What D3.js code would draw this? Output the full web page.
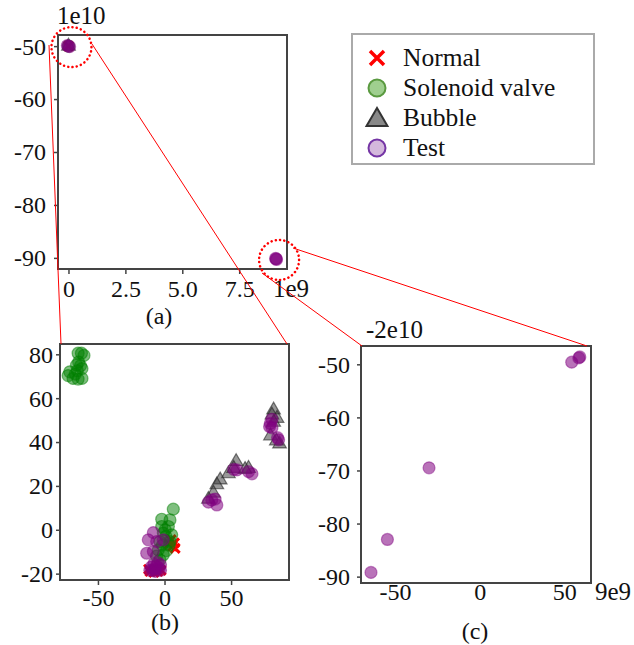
<!DOCTYPE html>
<html>
<head>
<meta charset="utf-8">
<script src="https://cdn.jsdelivr.net/npm/d3@7"></script>
<style>
  body { margin: 0; background: #fff; }
</style>
</head>
<body>
<svg id="fig" width="634" height="645"></svg>
<script>
// ---- data ----
// panel (a): full range, x in 1e9, y in 1e10
const aNormal = [[0, -50]];
const aSolenoid = [[0, -50]];
const aBubble = [[0, -50]];
const aTest = [[0, -50], [0.05, -50.1], [-0.05, -49.9], [9.12, -90.2], [9.1, -90.1], [9.14, -90.3]];
const aXTicks = [0, 2.5, 5.0, 7.5];
const aYTicks = [-50, -60, -70, -80, -90];

// panel (b): zoom around the origin
const bNormal = [[5, -4.5], [7.5, -6], [8, -8.5], [6, -7.5], [3.5, -6.5], [-11, -19], [-8, -19.5], [-5, -19], [-2.5, -18.5], [-12, -18]];
const bSolenoid = [
  [-64.9, 80.5], [-62.4, 80.5], [-60.5, 79.5], [-66.1, 75.1], [-63.1, 74.8], [-64.5, 76.5], [-62, 73.5],
  [-65.5, 72.5], [-71.2, 72], [-72.4, 70.3], [-68.7, 69], [-64.9, 68.7], [-62, 69], [-67, 71],
  [6.6, 9.4], [-2.1, 4.8], [4.1, 4.5], [-2.1, 1.5], [2.9, 1.5], [-0.9, -1.5], [5.4, -2.3], [-3.4, -5.4],
  [4.1, -5.4], [-4.7, -9.2], [-0.9, -11.4], [-3.4, -13.7], [1, -3], [-1.5, -7], [-6, -12], [0.5, 0],
  [3.5, -7], [1.5, -9.5]
];
const bBubble = [
  [81.9, 54.6], [80.7, 52.3], [84.5, 50.8], [79.6, 42.8], [86.4, 39.1], [84, 40.5], [82, 49],
  [53.8, 31.1], [63.1, 28], [48, 25.5], [41.8, 22.7], [39.3, 20.5], [36.7, 16.7], [33, 13.9], [60.5, 27.5], [52, 28]
];
const bTest = [
  [80.7, 50.4], [78.9, 47], [80.7, 46.5], [85.7, 41], [84.9, 42], [79.5, 48.5],
  [54.4, 27.3], [65.7, 25.5], [63.1, 26.5], [35.5, 13.6], [39.3, 11.3], [33, 12.6], [38, 14], [52, 27.5],
  [-8.4, -1.3], [-12.2, -4.6], [-5.9, -5.4], [-0.9, -4.6], [-13.4, -10.7], [-8.4, -9.9],
  [-10, -17], [-7, -18], [-4, -17.5], [-8, -15.5], [-3, -16], [-6, -16.5], [-9, -18.5], [-5, -15],
  [-11, -18.5], [-7, -19], [-3, -18.5]
];
const bXTicks = [-50, 0, 50];
const bYTicks = [-20, 0, 20, 40, 60, 80];

// panel (c): zoom on the far cluster
const cTest = [[-64.2, -89.2], [-54.5, -83.0], [-29.9, -69.5], [54.4, -49.6], [58.6, -48.8], [59.2, -48.6]];
const cXTicks = [-50, 0, 50];
const cYTicks = [-50, -60, -70, -80, -90];

const seriesNames = ['Normal', 'Solenoid valve', 'Bubble', 'Test'];

const FONT = 'Liberation Serif';
const svg = d3.select('#fig');
const minus = d => d3.format('d')(d).replace('−', '-');

// marker drawing helpers
function drawMarkers(g, data, kind, x, y) {
  if (kind === 'Normal') {
    const s = 4.5;
    g.selectAll(null).data(data).enter().append('path')
      .attr('d', d => `M${x(d[0]) - s},${y(d[1]) - s}L${x(d[0]) + s},${y(d[1]) + s}M${x(d[0]) - s},${y(d[1]) + s}L${x(d[0]) + s},${y(d[1]) - s}`)
      .attr('stroke', 'red').attr('stroke-width', 3).attr('fill', 'none');
  } else if (kind === 'Solenoid valve') {
    g.selectAll(null).data(data).enter().append('circle')
      .attr('cx', d => x(d[0])).attr('cy', d => y(d[1])).attr('r', 6)
      .attr('fill', 'green').attr('fill-opacity', 0.5)
      .attr('stroke', 'green').attr('stroke-opacity', 0.5).attr('stroke-width', 1.2);
  } else if (kind === 'Bubble') {
    const tri = d3.symbol().type(d3.symbolTriangle).size(80);
    g.selectAll(null).data(data).enter().append('path')
      .attr('d', tri)
      .attr('transform', d => `translate(${x(d[0])},${y(d[1])})`)
      .attr('fill', '#444').attr('fill-opacity', 0.55)
      .attr('stroke', '#222').attr('stroke-opacity', 0.6).attr('stroke-width', 1.2);
  } else {
    g.selectAll(null).data(data).enter().append('circle')
      .attr('cx', d => x(d[0])).attr('cy', d => y(d[1])).attr('r', 6)
      .attr('fill', 'purple').attr('fill-opacity', 0.55)
      .attr('stroke', 'purple').attr('stroke-opacity', 0.45).attr('stroke-width', 1.2);
  }
}

function label(g, x, y, t, size, anchor) {
  return g.append('text').attr('x', x).attr('y', y)
    .attr('font-family', FONT).attr('font-size', size)
    .attr('fill', '#111').attr('text-anchor', anchor || 'start').text(t);
}

function panel(p) {
  const x = d3.scaleLinear().domain(p.xDomain).range([p.left, p.right]);
  const y = d3.scaleLinear().domain(p.yDomain).range([p.bottom, p.top]);
  const g = svg.append('g');

  const marks = g.append('g');
  p.series.forEach(s => drawMarkers(marks, s.data, s.kind, x, y));

  const xAxis = d3.axisBottom(x).tickValues(p.xTicks).tickSize(p.xTick).tickPadding(0).tickFormat(p.xFormat);
  const yAxis = d3.axisLeft(y).tickValues(p.yTicks).tickSize(4).tickPadding(p.yPad).tickFormat(minus);

  const xg = g.append('g').attr('transform', `translate(0,${p.bottom})`).call(xAxis);
  const yg = g.append('g').attr('transform', `translate(${p.left},0)`).call(yAxis);
  [xg, yg].forEach(ax => {
    ax.attr('font-family', FONT).attr('font-size', 24);
    ax.select('.domain').remove();
    ax.selectAll('line').attr('stroke', '#444').attr('stroke-width', 1.5);
    ax.selectAll('text').attr('fill', '#111');
  });
  // baseline of x labels at a fixed distance below the frame
  xg.selectAll('text').attr('y', p.xBase).attr('dy', null);
  yg.selectAll('text').attr('dy', '0.33em');

  g.append('rect')
    .attr('x', p.left).attr('y', p.top)
    .attr('width', p.right - p.left).attr('height', p.bottom - p.top)
    .attr('fill', 'none').attr('stroke', '#444').attr('stroke-width', 2);

  if (p.yOffset) label(g, p.yOffset.x, p.yOffset.y, p.yOffset.t, 25);
  if (p.xOffset) label(g, p.xOffset.x, p.xOffset.y, p.xOffset.t, 25);
  label(g, p.cap.x, p.cap.y, p.cap.t, 24, 'middle');
  return { x, y };
}

const pa = panel({
  left: 58, right: 287, top: 35, bottom: 269,
  xDomain: [-0.46, 9.6], yDomain: [-92.1, -47.9],
  xTicks: aXTicks, yTicks: aYTicks, xTick: 5, xBase: 28, yPad: 8,
  xFormat: d => d === 0 ? '0' : d3.format('.1f')(d),
  series: [{ kind: 'Normal', data: aNormal }, { kind: 'Solenoid valve', data: aSolenoid },
           { kind: 'Bubble', data: aBubble }, { kind: 'Test', data: aTest }],
  yOffset: { x: 57, y: 24, t: '1e10' },
  xOffset: { x: 273, y: 297, t: '1e9' },
  cap: { x: 159, y: 324, t: '(a)' }
});

const pb = panel({
  left: 60, right: 289, top: 344, bottom: 580,
  xDomain: [-78.5, 93.5], yDomain: [-22.9, 84.7],
  xTicks: bXTicks, yTicks: bYTicks, xTick: 5, xBase: 26, yPad: 3,
  xFormat: minus,
  series: [{ kind: 'Normal', data: bNormal }, { kind: 'Solenoid valve', data: bSolenoid },
           { kind: 'Bubble', data: bBubble }, { kind: 'Test', data: bTest }],
  cap: { x: 165, y: 630, t: '(b)' }
});

const pc = panel({
  left: 361, right: 591, top: 346, bottom: 583,
  xDomain: [-70.1, 65.8], yDomain: [-91.2, -46.55],
  xTicks: cXTicks, yTicks: cYTicks, xTick: 0, xBase: 17, yPad: 7,
  xFormat: minus,
  series: [{ kind: 'Test', data: cTest }],
  yOffset: { x: 366, y: 338, t: '-2e10' },
  xOffset: { x: 595, y: 600, t: '9e9' },
  cap: { x: 475, y: 639, t: '(c)' }
});

// dotted zoom circles on panel (a) and connector lines
const zoomA = [[0, -50], [9.12, -90.2]];
const ring = svg.append('g');
zoomA.forEach(d => {
  ring.append('circle')
    .attr('cx', pa.x(d[0]) + 3).attr('cy', pa.y(d[1]) + 1).attr('r', 20)
    .attr('fill', 'none').attr('stroke', 'red').attr('stroke-width', 2.5)
    .attr('stroke-dasharray', '0.1,4.2').attr('stroke-linecap', 'round');
});
const links = [
  [[49, 45], [61, 344]],
  [[92, 44], [287, 344]],
  [[293, 248], [587, 346]],
  [[262, 273], [362, 346]]
];
ring.selectAll(null).data(links).enter().append('line')
  .attr('x1', d => d[0][0]).attr('y1', d => d[0][1])
  .attr('x2', d => d[1][0]).attr('y2', d => d[1][1])
  .attr('stroke', 'red').attr('stroke-width', 1);

// legend
const leg = svg.append('g');
leg.append('rect').attr('x', 352).attr('y', 34).attr('width', 242).attr('height', 130)
  .attr('fill', '#fff').attr('stroke', '#aaa').attr('stroke-width', 2);
seriesNames.forEach((name, i) => {
  const cy = 58 + i * 30, cx = 377;
  const row = leg.append('g');
  if (name === 'Normal') {
    row.append('path').attr('d', `M${cx - 7},${cy - 7}L${cx + 7},${cy + 7}M${cx - 7},${cy + 7}L${cx + 7},${cy - 7}`)
      .attr('stroke', 'red').attr('stroke-width', 3.5);
  } else if (name === 'Solenoid valve') {
    row.append('circle').attr('cx', cx).attr('cy', cy).attr('r', 8.5)
      .attr('fill', '#9fcf8f').attr('stroke', '#5a9a40').attr('stroke-width', 2);
  } else if (name === 'Bubble') {
    row.append('path').attr('d', d3.symbol().type(d3.symbolTriangle).size(190))
      .attr('transform', `translate(${cx},${cy + 2})`)
      .attr('fill', '#888').attr('stroke', '#333').attr('stroke-width', 2);
  } else {
    row.append('circle').attr('cx', cx).attr('cy', cy).attr('r', 8.5)
      .attr('fill', '#d4b8dc').attr('stroke', '#7535a5').attr('stroke-width', 2);
  }
  row.append('text').attr('x', 403).attr('y', cy + 8)
    .attr('font-family', FONT).attr('font-size', 25.5).attr('fill', '#111').text(name);
});
</script>
</body>
</html>
